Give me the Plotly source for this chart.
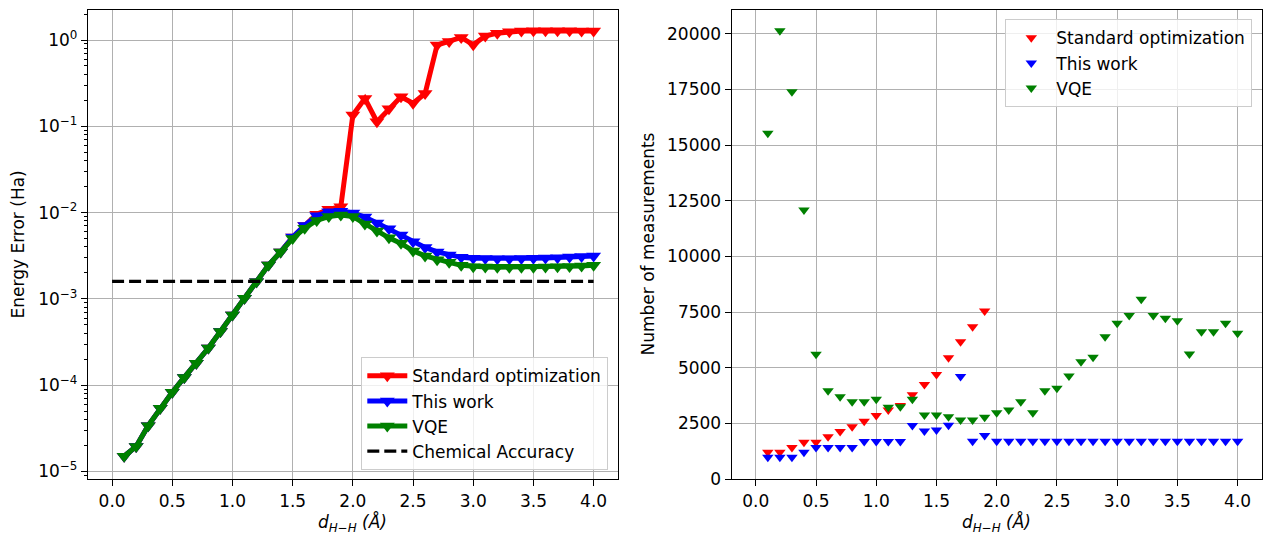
import plotly.graph_objects as go

# ---------------- data ----------------
d_hh = [0.1, 0.2, 0.3, 0.4, 0.5, 0.6, 0.7, 0.8, 0.9, 1.0,
        1.1, 1.2, 1.3, 1.4, 1.5, 1.6, 1.7, 1.8, 1.9, 2.0,
        2.1, 2.2, 2.3, 2.4, 2.5, 2.6, 2.7, 2.8, 2.9, 3.0,
        3.1, 3.2, 3.3, 3.4, 3.5, 3.6, 3.7, 3.8, 3.9, 4.0]

# energy errors (Ha)
err_vqe = [1.5e-5, 1.95e-5, 3.4e-5, 5.4e-5, 8.3e-5, 1.23e-4, 1.8e-4, 2.7e-4, 4.2e-4, 6.5e-4,
           1.02e-3, 1.58e-3, 2.47e-3, 3.5e-3, 5.0e-3, 6.6e-3, 8.1e-3, 9.0e-3, 9.4e-3, 9.0e-3,
           7.4e-3, 6.1e-3, 5.1e-3, 4.4e-3, 3.6e-3, 3.15e-3, 2.85e-3, 2.65e-3, 2.45e-3, 2.36e-3,
           2.34e-3, 2.33e-3, 2.33e-3, 2.33e-3, 2.33e-3, 2.34e-3, 2.35e-3, 2.37e-3, 2.4e-3, 2.45e-3]
err_this = [1.5e-5, 1.95e-5, 3.4e-5, 5.4e-5, 8.3e-5, 1.23e-4, 1.8e-4, 2.7e-4, 4.2e-4, 6.5e-4,
            1.02e-3, 1.58e-3, 2.47e-3, 3.5e-3, 5.2e-3, 7.1e-3, 9.2e-3, 1.02e-2, 1.04e-2, 9.9e-3,
            8.9e-3, 7.6e-3, 6.5e-3, 5.5e-3, 4.6e-3, 3.95e-3, 3.5e-3, 3.22e-3, 3.03e-3, 2.95e-3,
            2.93e-3, 2.92e-3, 2.92e-3, 2.93e-3, 2.95e-3, 2.98e-3, 3.0e-3, 3.05e-3, 3.1e-3, 3.15e-3]
err_std = [1.5e-5, 1.95e-5, 3.4e-5, 5.4e-5, 8.3e-5, 1.23e-4, 1.8e-4, 2.7e-4, 4.2e-4, 6.5e-4,
           1.02e-3, 1.58e-3, 2.47e-3, 3.5e-3, 5.2e-3, 7.1e-3, 9.6e-3, 1.09e-2, 1.17e-2, 0.135,
           0.21, 0.113, 0.16, 0.22, 0.185, 0.24, 0.875, 0.96, 1.07, 0.88,
           1.11, 1.2, 1.25, 1.27, 1.28, 1.28, 1.28, 1.28, 1.27, 1.27]

chem_acc_x = [0.0, 4.0]
chem_acc = 1.6e-3

# number of measurements
meas_std_x = [0.1, 0.2, 0.3, 0.4, 0.5, 0.6, 0.7, 0.8, 0.9, 1.0,
              1.1, 1.2, 1.3, 1.4, 1.5, 1.6, 1.7, 1.8, 1.9]
meas_std = [1200, 1200, 1420, 1650, 1650, 1900, 2130, 2350, 2600, 2850,
            3100, 3300, 3780, 4250, 4700, 5450, 6170, 6840, 7550]
meas_this = [975, 975, 975, 1200, 1420, 1420, 1420, 1420, 1680, 1680,
             1680, 1680, 2400, 2160, 2200, 2420, 4600, 1700, 1950, 1700,
             1700, 1700, 1700, 1700, 1700, 1700, 1700, 1700, 1700, 1700,
             1700, 1700, 1700, 1700, 1700, 1700, 1700, 1700, 1700, 1700]
meas_vqe = [15530, 20140, 17400, 12085, 5600, 3970, 3700, 3475, 3475, 3580,
            3220, 3250, 3580, 2875, 2875, 2800, 2650, 2650, 2770, 2980,
            3100, 3475, 2980, 3970, 4075, 4630, 5270, 5465, 6390, 6995,
            7340, 8070, 7340, 7220, 7110, 5615, 6620, 6620, 6995, 6545]

x_ticks = [0.0, 0.5, 1.0, 1.5, 2.0, 2.5, 3.0, 3.5, 4.0]
log_ticks = [1e-5, 1e-4, 1e-3, 1e-2, 1e-1, 1e0]
log_ticktext = ["10<sup>\u22125</sup>", "10<sup>\u22124</sup>", "10<sup>\u22123</sup>",
                "10<sup>\u22122</sup>", "10<sup>\u22121</sup>", "10<sup>0</sup>"]
minor_log = [m * 10.0 ** e for e in range(-6, 1) for m in range(2, 10)]

# ---------------- style ----------------
W, H = 1277, 538
FONT = "DejaVu Sans"
FS = 17
RED, BLUE, GREEN = "#ff0000", "#0000ff", "#008000"
GRID = "#b0b0b0"

fig = go.Figure()

series_left = [("Standard optimization", err_std, RED),
               ("This work", err_this, BLUE),
               ("VQE", err_vqe, GREEN)]
for name, ys, col in series_left:
    fig.add_trace(go.Scatter(
        x=d_hh, y=ys, name=name, mode="lines+markers",
        line=dict(color=col, width=5),
        marker=dict(symbol="triangle-down", size=13, color=col, line=dict(width=0)),
        xaxis="x", yaxis="y", legend="legend", legendgroup=name))

fig.add_trace(go.Scatter(
    x=chem_acc_x, y=[chem_acc, chem_acc], name="Chemical Accuracy", mode="lines",
    line=dict(color="black", width=3.2, dash="12px,5px"),
    xaxis="x", yaxis="y", legend="legend", legendgroup="chem"))

series_right = [("Standard optimization", meas_std_x, meas_std, RED),
                ("This work", d_hh, meas_this, BLUE),
                ("VQE", d_hh, meas_vqe, GREEN)]
for name, xs, ys, col in series_right:
    fig.add_trace(go.Scatter(
        x=xs, y=ys, name=name, mode="markers",
        marker=dict(symbol="triangle-down", size=10, color=col, line=dict(width=0)),
        xaxis="x2", yaxis="y2", legend="legend2", legendgroup=name + "2"))

axis_common = dict(
    showgrid=True, gridcolor=GRID, gridwidth=1.3,
    showline=True, linecolor="black", linewidth=1.3, mirror=True,
    ticks="outside", ticklen=6, tickwidth=1.3, tickcolor="black",
    zeroline=False, automargin=False,
    tickfont=dict(family=FONT, size=FS, color="black"),
)

L0, L1 = 88 / W, 617.7 / W
R0, R1 = 731.7 / W, 1261.7 / W
Y0, Y1 = (H - 479) / H, (H - 10) / H

legend_common = dict(
    bgcolor="rgba(255,255,255,0.8)", bordercolor="#cccccc", borderwidth=1.3,
    font=dict(family=FONT, size=FS, color="black"), tracegroupgap=4,
    traceorder="normal", itemwidth=40,
)

fig.update_layout(
    width=W, height=H, autosize=False,
    margin=dict(l=0, r=0, t=0, b=0, pad=0, autoexpand=False),
    paper_bgcolor="white", plot_bgcolor="white",
    font=dict(family=FONT, size=FS, color="black"),
    xaxis=dict(domain=[L0, L1], range=[-0.2, 4.2], tickvals=x_ticks,
               tickformat=".1f", anchor="y", **axis_common),
    yaxis=dict(domain=[Y0, Y1], type="log", range=[-5.087, 0.3476],
               tickvals=log_ticks, ticktext=log_ticktext, anchor="x",
               minor=dict(tickvals=minor_log, ticks="outside", ticklen=3.3,
                          tickwidth=1, tickcolor="black", showgrid=False),
               **axis_common),
    xaxis2=dict(domain=[R0, R1], range=[-0.2, 4.2], tickvals=x_ticks,
                tickformat=".1f", anchor="y2", **axis_common),
    yaxis2=dict(domain=[Y0, Y1], range=[0, 21070], dtick=2500, tick0=0,
                tickformat="d", anchor="x2", **axis_common),
    legend=dict(x=608 / W, xanchor="right", y=(H - 470) / H, yanchor="bottom",
                **legend_common),
    legend2=dict(x=1252 / W, xanchor="right", y=(H - 19) / H, yanchor="top",
                 **legend_common),
    showlegend=True,
)

xlabel = "<i>d</i><sub><i>H\u2212H</i></sub> <i>(Å)</i>"
annots = [
    dict(text="Energy Error (Ha)", x=17 / W, y=1 - 244.5 / H, textangle=-90),
    dict(text="Number of measurements", x=647 / W, y=1 - 244.5 / H, textangle=-90),
    dict(text=xlabel, x=(88 + 617.7) / 2 / W, y=1 - 523 / H),
    dict(text=xlabel, x=(731.7 + 1261.7) / 2 / W, y=1 - 523 / H),
]
for a in annots:
    fig.add_annotation(xref="paper", yref="paper", showarrow=False,
                       xanchor="center", yanchor="middle",
                       font=dict(family=FONT, size=FS, color="black"), **a)

fig.write_html("out.html")
